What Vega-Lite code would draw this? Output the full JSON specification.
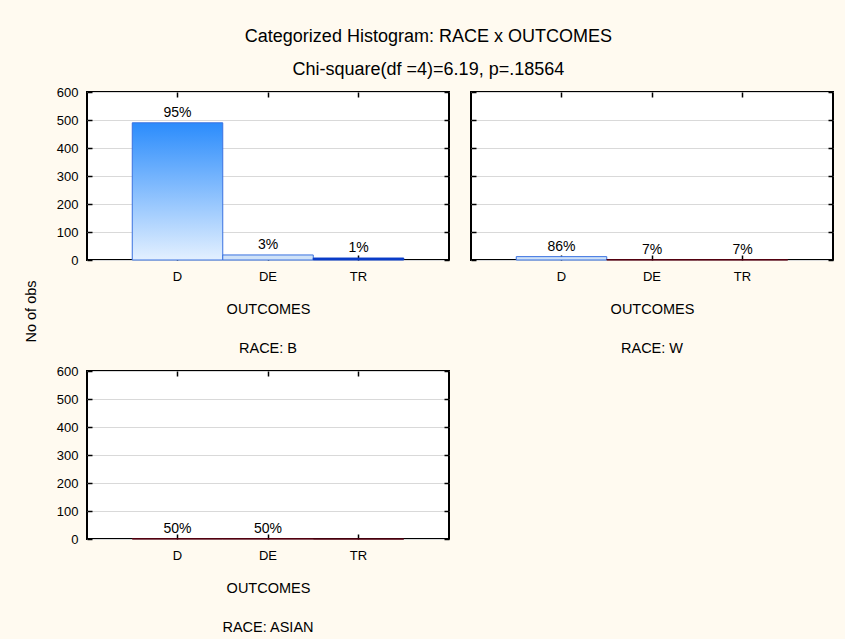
{
  "$schema": "https://vega.github.io/schema/vega-lite/v6.json",
  "background": "#fffaf0",
  "padding": {"left": 22, "top": 28, "right": 10, "bottom": 4},
  "title": {
    "text": "Categorized Histogram: RACE x OUTCOMES",
    "subtitle": "Chi-square(df =4)=6.19, p=.18564",
    "anchor": "middle",
    "fontSize": 18,
    "fontWeight": "normal",
    "subtitleFontSize": 18,
    "subtitlePadding": 15,
    "color": "#000000",
    "subtitleColor": "#000000",
    "font": "Liberation Sans",
    "subtitleFont": "Liberation Sans",
    "offset": 6
  },
  "data": {
    "values": [
      {"race": "B", "outcome": "D", "n": 490, "pct": "95%"},
      {"race": "B", "outcome": "DE", "n": 18, "pct": "3%"},
      {"race": "B", "outcome": "TR", "n": 7, "pct": "1%"},
      {"race": "W", "outcome": "D", "n": 12, "pct": "86%"},
      {"race": "W", "outcome": "DE", "n": 1, "pct": "7%"},
      {"race": "W", "outcome": "TR", "n": 1, "pct": "7%"},
      {"race": "ASIAN", "outcome": "D", "n": 1, "pct": "50%"},
      {"race": "ASIAN", "outcome": "DE", "n": 1, "pct": "50%"},
      {"race": "ASIAN", "outcome": "TR", "n": 0, "pct": ""}
    ]
  },
  "columns": 2,
  "bounds": "flush",
  "spacing": {"row": 111, "column": 22},
  "concat": [
    {
      "width": 362, "height": 168,
      "transform": [{"filter": "datum.race === 'B'"}],
      "title": {"text": "RACE: B", "orient": "bottom", "offset": 26, "fontSize": 14.5, "fontWeight": "normal", "anchor": "middle"},
      "layer": [
        {
          "mark": {"type": "bar", "strokeWidth": 1},
          "encoding": {
            "x": {"field": "outcome", "type": "nominal", "scale": {"domain": ["D", "DE", "TR"], "paddingInner": 0, "paddingOuter": 0.5},
                  "axis": {"orient": "bottom", "title": "OUTCOMES", "labelAngle": 0, "grid": false, "domain": false, "tickSize": -5, "labelPadding": 15, "titlePadding": 19}},
            "y": {"field": "n", "type": "quantitative", "scale": {"domain": [0, 600], "nice": false},
                  "axis": {"orient": "left", "title": null, "grid": true, "gridColor": "#d9d9d9", "domain": false, "tickSize": -5, "labelPadding": 14, "values": [0, 100, 200, 300, 400, 500, 600]}},
            "fill": {"condition": [{"test": "datum.n <= 1", "value": "#5a0010"}, {"test": "datum.n <= 8", "value": "#0a3cc8"}, {"test": "datum.n <= 20", "value": "#cfe2f8"}],
                     "value": {"gradient": "linear", "x1": 0, "y1": 0, "x2": 0, "y2": 1, "stops": [{"offset": 0, "color": "#2b8cfc"}, {"offset": 1, "color": "#e3f0ff"}]}},
            "stroke": {"condition": [{"test": "datum.n <= 1", "value": "#5a0010"}, {"test": "datum.n <= 8", "value": "#0a3cc8"}], "value": "#3a72e0"}
          }
        },
        {
          "mark": {"type": "text", "baseline": "alphabetic", "dy": -6, "fontSize": 14},
          "encoding": {
            "x": {"field": "outcome", "type": "nominal", "axis": {"orient": "top", "labels": false, "title": null, "grid": false, "domain": false, "tickSize": -5}},
            "y": {"field": "n", "type": "quantitative", "axis": {"orient": "right", "labels": false, "title": null, "grid": false, "domain": false, "tickSize": -5, "values": [0, 100, 200, 300, 400, 500, 600]}},
            "text": {"field": "pct"}
          }
        }
      ],
      "resolve": {"axis": {"x": "independent", "y": "independent"}}
    },
    {
      "width": 362, "height": 168,
      "transform": [{"filter": "datum.race === 'W'"}],
      "title": {"text": "RACE: W", "orient": "bottom", "offset": 26, "fontSize": 14.5, "fontWeight": "normal", "anchor": "middle"},
      "layer": [
        {
          "mark": {"type": "bar", "strokeWidth": 1},
          "encoding": {
            "x": {"field": "outcome", "type": "nominal", "scale": {"domain": ["D", "DE", "TR"], "paddingInner": 0, "paddingOuter": 0.5},
                  "axis": {"orient": "bottom", "title": "OUTCOMES", "labelAngle": 0, "grid": false, "domain": false, "tickSize": -5, "labelPadding": 15, "titlePadding": 19}},
            "y": {"field": "n", "type": "quantitative", "scale": {"domain": [0, 600], "nice": false},
                  "axis": {"orient": "left", "title": null, "labels": false, "grid": true, "gridColor": "#d9d9d9", "domain": false, "tickSize": -5, "values": [0, 100, 200, 300, 400, 500, 600]}},
            "fill": {"condition": [{"test": "datum.n <= 1", "value": "#5a0010"}, {"test": "datum.n <= 8", "value": "#0a3cc8"}, {"test": "datum.n <= 20", "value": "#cfe2f8"}],
                     "value": {"gradient": "linear", "x1": 0, "y1": 0, "x2": 0, "y2": 1, "stops": [{"offset": 0, "color": "#2b8cfc"}, {"offset": 1, "color": "#e3f0ff"}]}},
            "stroke": {"condition": [{"test": "datum.n <= 1", "value": "#5a0010"}, {"test": "datum.n <= 8", "value": "#0a3cc8"}], "value": "#3a72e0"}
          }
        },
        {
          "mark": {"type": "text", "baseline": "alphabetic", "dy": -6, "fontSize": 14},
          "encoding": {
            "x": {"field": "outcome", "type": "nominal", "axis": {"orient": "top", "labels": false, "title": null, "grid": false, "domain": false, "tickSize": -5}},
            "y": {"field": "n", "type": "quantitative", "axis": {"orient": "right", "labels": false, "title": null, "grid": false, "domain": false, "tickSize": -5, "values": [0, 100, 200, 300, 400, 500, 600]}},
            "text": {"field": "pct"}
          }
        }
      ],
      "resolve": {"axis": {"x": "independent", "y": "independent"}}
    },
    {
      "width": 362, "height": 168,
      "transform": [{"filter": "datum.race === 'ASIAN'"}],
      "title": {"text": "RACE: ASIAN", "orient": "bottom", "offset": 26, "fontSize": 14.5, "fontWeight": "normal", "anchor": "middle"},
      "layer": [
        {
          "mark": {"type": "bar", "strokeWidth": 1},
          "encoding": {
            "x": {"field": "outcome", "type": "nominal", "scale": {"domain": ["D", "DE", "TR"], "paddingInner": 0, "paddingOuter": 0.5},
                  "axis": {"orient": "bottom", "title": "OUTCOMES", "labelAngle": 0, "grid": false, "domain": false, "tickSize": -5, "labelPadding": 15, "titlePadding": 19}},
            "y": {"field": "n", "type": "quantitative", "scale": {"domain": [0, 600], "nice": false},
                  "axis": {"orient": "left", "title": "No of obs", "titleX": -56, "titleY": -60, "titleBaseline": "middle", "grid": true, "gridColor": "#d9d9d9", "domain": false, "tickSize": -5, "labelPadding": 14, "values": [0, 100, 200, 300, 400, 500, 600]}},
            "fill": {"condition": [{"test": "datum.n <= 1", "value": "#5a0010"}, {"test": "datum.n <= 8", "value": "#0a3cc8"}, {"test": "datum.n <= 20", "value": "#cfe2f8"}],
                     "value": {"gradient": "linear", "x1": 0, "y1": 0, "x2": 0, "y2": 1, "stops": [{"offset": 0, "color": "#2b8cfc"}, {"offset": 1, "color": "#e3f0ff"}]}},
            "stroke": {"condition": [{"test": "datum.n <= 1", "value": "#5a0010"}, {"test": "datum.n <= 8", "value": "#0a3cc8"}], "value": "#3a72e0"}
          }
        },
        {
          "mark": {"type": "text", "baseline": "alphabetic", "dy": -6, "fontSize": 14},
          "encoding": {
            "x": {"field": "outcome", "type": "nominal", "axis": {"orient": "top", "labels": false, "title": null, "grid": false, "domain": false, "tickSize": -5}},
            "y": {"field": "n", "type": "quantitative", "axis": {"orient": "right", "labels": false, "title": null, "grid": false, "domain": false, "tickSize": -5, "values": [0, 100, 200, 300, 400, 500, 600]}},
            "text": {"field": "pct"}
          }
        }
      ],
      "resolve": {"axis": {"x": "independent", "y": "independent"}}
    }
  ],
  "config": {
    "font": "Liberation Sans",
    "view": {"stroke": "#000000", "strokeWidth": 2, "fill": "#ffffff"},
    "axis": {"labelFontSize": 13, "titleFontSize": 14.5, "titleFontWeight": "normal", "labelColor": "#000000", "titleColor": "#000000", "tickColor": "#000000", "tickWidth": 1.5},
    "text": {"color": "#000000", "font": "Liberation Sans"},
    "title": {"color": "#000000", "font": "Liberation Sans"}
  }
}
